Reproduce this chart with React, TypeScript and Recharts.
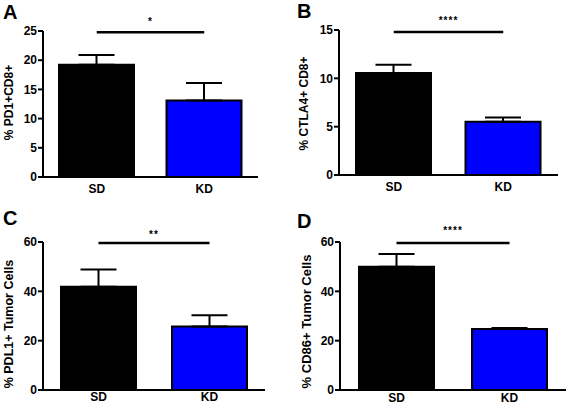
import React from 'react'
import { BarChart, Bar, XAxis, YAxis, ErrorBar, ReferenceLine, Cell } from 'recharts'

const FONT = 'Arial, "Liberation Sans", Helvetica, sans-serif'

// groups and colours
const categories = ['SD', 'KD']
const barColors = ['#000000', '#0000ff']

// means and SEM
const pd1Means = [19.2, 13.1]
const pd1Sem = [1.7, 3.0]
const ctla4Means = [10.55, 5.5]
const ctla4Sem = [0.85, 0.45]
const pdl1Means = [41.9, 25.7]
const pdl1Sem = [7.0, 4.6]
const cd86Means = [50.0, 24.7]
const cd86Sem = [5.1, 0.4]

const pd1Ticks = [0, 5, 10, 15, 20, 25]
const ctla4Ticks = [0, 5, 10, 15]
const pdl1Ticks = [0, 20, 40, 60]
const cd86Ticks = [0, 20, 40, 60]

const sigLevels = [24.8, 14.8, 59.6, 59.6]
const sigStars = ['*', '****', '**', '****']
const yLabels = ['% PD1+CD8+', '% CTLA4+ CD8+', '% PDL1+ Tumor Cells', '% CD86+ Tumor Cells']
const panelLetters = ['A', 'B', 'C', 'D']

const makeRows = (means: number[], sem: number[]) =>
  categories.map((name, i) => ({ name, value: means[i], err: [0, sem[i]] }))

const panels = [
  { rows: makeRows(pd1Means, pd1Sem), ticks: pd1Ticks },
  { rows: makeRows(ctla4Means, ctla4Sem), ticks: ctla4Ticks },
  { rows: makeRows(pdl1Means, pdl1Sem), ticks: pdl1Ticks },
  { rows: makeRows(cd86Means, cd86Sem), ticks: cd86Ticks },
]

// where each panel sits on the page
const layouts = [
  { left: 0, top: 0, width: 283, height: 200, margin: { top: 31, right: 25, left: 0, bottom: 0 }, yAxisWidth: 43, xAxisHeight: 23, xTickMargin: 7, labelX: 8.5, labelY: 102.5, labelSize: 12, starGap: 7, letterX: 3, letterY: 19 },
  { left: 283, top: 0, width: 284, height: 200, margin: { top: 30, right: 9, left: 0, bottom: 0 }, yAxisWidth: 56, xAxisHeight: 25, xTickMargin: 7, labelX: 21, labelY: 103.5, labelSize: 12, starGap: 8, letterX: 297, letterY: 18 },
  { left: 0, top: 200, width: 283, height: 208, margin: { top: 42, right: 18, left: 0, bottom: 0 }, yAxisWidth: 43, xAxisHeight: 18, xTickMargin: 2, labelX: 8.5, labelY: 124, labelSize: 12.5, starGap: 4.5, letterX: 3, letterY: 225 },
  { left: 283, top: 200, width: 284, height: 208, margin: { top: 42, right: 1, left: 0, bottom: 0 }, yAxisWidth: 57, xAxisHeight: 18, xTickMargin: 3, labelX: 23, labelY: 121.5, labelSize: 13, starGap: 9, letterX: 297, letterY: 228 },
]

const YLabel = ({ cx, cy, text, size }: any) => (
  <text
    x={cx}
    y={cy}
    transform={`rotate(-90, ${cx}, ${cy})`}
    textAnchor="middle"
    dominantBaseline="central"
    fontSize={size}
    fontWeight="bold"
    fontFamily={FONT}
    fill="#000"
  >
    {text}
  </text>
)

const StarLabel = ({ viewBox, text, gap }: any) => {
  if (!viewBox) return null
  const x = viewBox.x + (viewBox.width || 0) / 2
  const y = viewBox.y - gap
  return (
    <text x={x} y={y} textAnchor="middle" fontSize={10} fontWeight="bold" letterSpacing={1} fontFamily={FONT} fill="#000">
      {text}
    </text>
  )
}

const tickStyle = { fontSize: 12, fontWeight: 'bold', fill: '#000', fontFamily: FONT }

export default function App() {
  return (
    <div style={{ position: 'absolute', left: 0, top: 0, width: 567, height: 408, background: '#fff' }}>
      {panels.map((p, k) => {
        const l = layouts[k]
        const max = p.ticks[p.ticks.length - 1]
        return (
          <div key={k} style={{ position: 'absolute', left: l.left, top: l.top }}>
            <BarChart width={l.width} height={l.height} data={p.rows} margin={l.margin}>
              <XAxis
                dataKey="name"
                height={l.xAxisHeight}
                tickLine={false}
                tickSize={0}
                tickMargin={l.xTickMargin}
                axisLine={{ stroke: '#000', strokeWidth: 2 }}
                tick={tickStyle}
              />
              <YAxis
                domain={[0, max]}
                ticks={p.ticks}
                interval={0}
                width={l.yAxisWidth}
                tickSize={5}
                tickMargin={1}
                axisLine={{ stroke: '#000', strokeWidth: 2 }}
                tickLine={{ stroke: '#000', strokeWidth: 2 }}
                tick={tickStyle}
                label={<YLabel cx={l.labelX} cy={l.labelY} text={yLabels[k]} size={l.labelSize} />}
              />
              <Bar dataKey="value" barSize={75} stroke="#000" strokeWidth={2} isAnimationActive={false}>
                {p.rows.map((r, i) => (
                  <Cell key={r.name} fill={barColors[i]} />
                ))}
                <ErrorBar dataKey="err" direction="y" width={18} stroke="#000" strokeWidth={2} isAnimationActive={false} />
              </Bar>
              <ReferenceLine
                segment={[{ x: categories[0], y: sigLevels[k] }, { x: categories[1], y: sigLevels[k] }]}
                stroke="#000"
                strokeWidth={2.5}
                ifOverflow="visible"
                label={<StarLabel text={sigStars[k]} gap={l.starGap} />}
              />
            </BarChart>
          </div>
        )
      })}
      <svg width={567} height={408} style={{ position: 'absolute', left: 0, top: 0, pointerEvents: 'none' }}>
        {layouts.map((l, k) => (
          <text key={k} x={l.letterX} y={l.letterY} fontSize={20} fontWeight="bold" fontFamily={FONT} fill="#000">
            {panelLetters[k]}
          </text>
        ))}
      </svg>
    </div>
  )
}
